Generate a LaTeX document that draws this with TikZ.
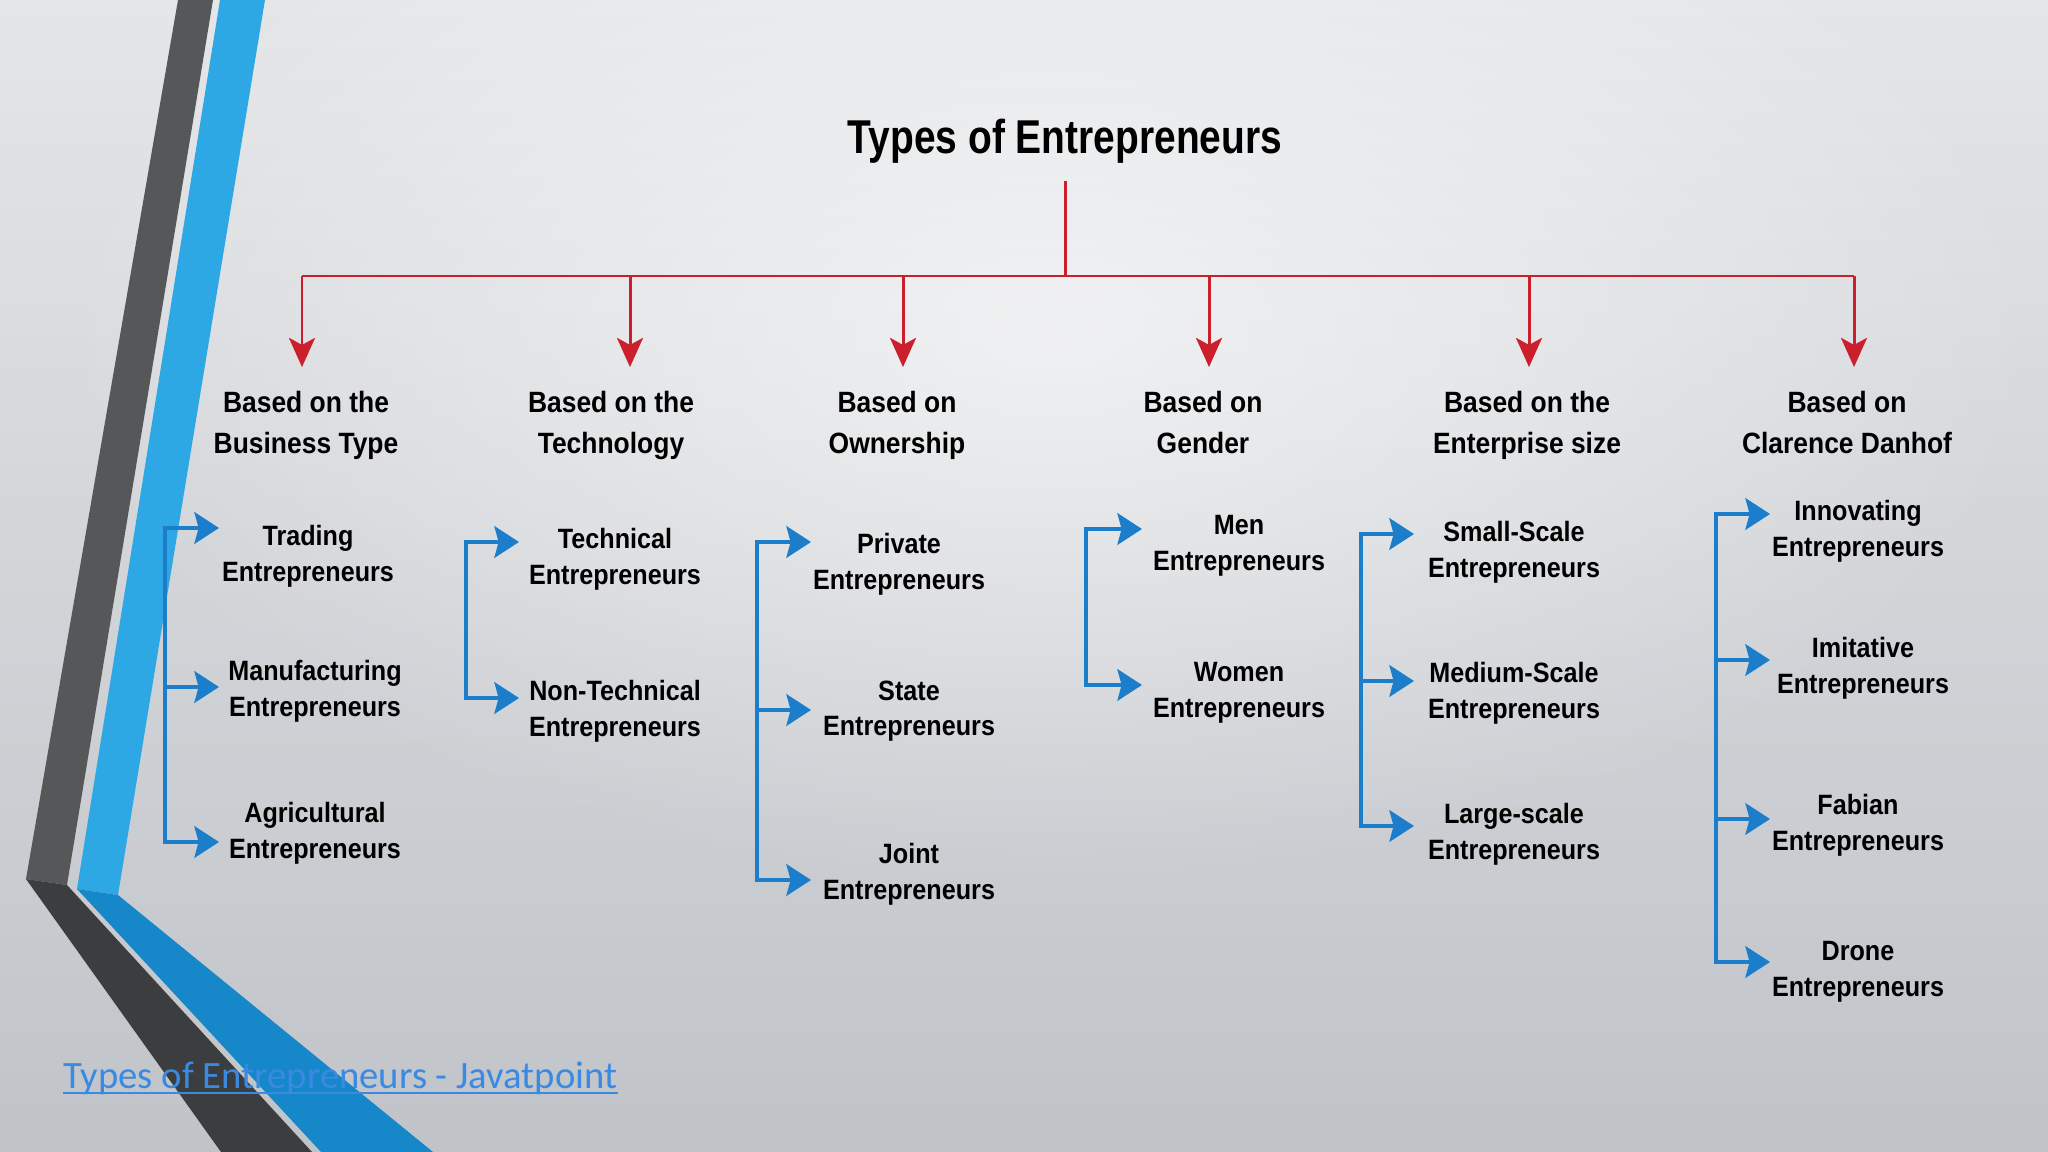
\documentclass[tikz,border=0pt]{standalone}
\usepackage{fontspec}
\setmainfont{Liberation Sans}
\newfontfamily\titlefont{Liberation Sans}[FakeStretch=0.82]
\newfontfamily\labelfont{Liberation Sans}[FakeStretch=0.9]
\newfontfamily\linkfont{Carlito}
\usetikzlibrary{positioning}
\usetikzlibrary{arrows.meta,calc,fadings}

\definecolor{bgtop}{HTML}{E4E6E8}
\definecolor{bgbottom}{HTML}{C0C3C8}
\definecolor{darkband}{HTML}{565759}
\definecolor{darkbandlow}{HTML}{3C3D3F}
\definecolor{blueband}{HTML}{2EA7E5}
\definecolor{bluebandlow}{HTML}{1687C8}
\definecolor{treered}{HTML}{CC1F2E}
\definecolor{treeblue}{HTML}{1C7ECB}
\definecolor{linkblue}{HTML}{3A8AE2}

\tikzfading[name=glow, inner color=transparent!0, outer color=transparent!100]

\newcommand{\BARY}{276}
\newcommand{\HEADY}{391}

\tikzset{
	heading/.style={font=\labelfont\bfseries\fontsize{8.35}{11.4}\selectfont, align=center, anchor=north},
	kind/.style={font=\labelfont\bfseries\fontsize{7.95}{10}\selectfont, align=center, anchor=north},
	redline/.style={draw=treered, line width=0.85pt},
	redarrow/.style={redline, -{Stealth[length=8.3pt,width=7.4pt,inset=2pt]}},
	blueline/.style={draw=treeblue, line width=1pt, line cap=rect},
	bluearrow/.style={draw=treeblue, line width=1pt, -{Stealth[length=7pt,width=9pt,inset=1.2pt]}}
}

\begin{document}
\begin{tikzpicture}[x=0.01cm,y=-0.01cm]
\tikzstyle{every node}=[inner sep=0]
% Background
	\useasboundingbox (0,0) rectangle (2048,1152);
	\clip (0,0) rectangle (2048,1152);
	\shade[top color=bgtop, bottom color=bgbottom] (0,0) rectangle (2048,1152);
	\fill[white, opacity=0.6, path fading=glow] (1050,330) ellipse (1000 and 560);

% Side bands
	\fill[darkband] (178,0) -- (213,0) -- (67,885) -- (26,879) -- cycle;
	\fill[darkbandlow] (26,879) -- (67,885) -- (312,1152) -- (221,1152) -- cycle;
	\fill[blueband] (220,0) -- (265,0) -- (118,895) -- (77,889) -- cycle;
	\fill[bluebandlow] (77,889) -- (118,895) -- (433,1152) -- (321,1152) -- cycle;

% Title
	\node[font=\titlefont\bfseries\fontsize{13.5}{16}\selectfont, anchor=north] (title) at (1065,118) {Types of Entrepreneurs};

% Headings
	\node[heading] (h1) at (306,\HEADY) {Based on the\\Business Type};
	\node[heading] (h2) at (611,\HEADY) {Based on the\\Technology};
	\node[heading] (h3) at (897,\HEADY) {Based on\\Ownership};
	\node[heading] (h4) at (1203,\HEADY) {Based on\\Gender};
	\node[heading] (h5) at (1527,\HEADY) {Based on the\\Enterprise size};
	\node[heading] (h6) at (1847,\HEADY) {Based on\\Clarence Danhof};

% Red tree
	\coordinate (j1) at (302,\BARY);
	\coordinate (j2) at (630,\BARY);
	\coordinate (j3) at (903,\BARY);
	\coordinate (j4) at (1209,\BARY);
	\coordinate (j5) at (1529,\BARY);
	\coordinate (j6) at (1854,\BARY);
	\draw[redline, shorten <=5pt] (title.south) -- (title.south |- j1);
	\draw[redline] (j1) -- (j6);
	\foreach \j/\h in {j1/h1,j2/h2,j3/h3,j4/h4,j5/h5,j6/h6}
		\draw[redarrow, shorten >=6.8pt] (\j) -- (\j |- \h.north);

% Business type
	\node[kind] (trade) at (308,525) {Trading\\Entrepreneurs};
	\node[kind] (manuf) at (315,660) {Manufacturing\\Entrepreneurs};
	\node[kind] (agri) at (315,802) {Agricultural\\Entrepreneurs};
	\foreach \n/\y in {1/528,2/687,3/842} {
		\coordinate (bs\n) at (165,\y);
		\coordinate (be\n) at (219,\y);
		\draw[bluearrow] (bs\n) -- (be\n);
	}
	\draw[blueline] (bs1) -- (bs3);

% Technology
	\node[kind] (tech) at (615,528) {Technical\\Entrepreneurs};
	\node[kind] (nontech) at (615,680) {Non-Technical\\Entrepreneurs};
	\foreach \n/\y in {1/542,2/698} {
		\coordinate (ts\n) at (466,\y);
		\coordinate (te\n) at (519,\y);
		\draw[bluearrow] (ts\n) -- (te\n);
	}
	\draw[blueline] (ts1) -- (ts2);

% Ownership
	\node[kind] (private) at (899,533) {Private\\Entrepreneurs};
	\node[kind] (state) at (909,680) {State\\Entrepreneurs};
	\node[kind] (joint) at (909,843) {Joint\\Entrepreneurs};
	\foreach \n/\y in {1/542,2/710,3/880} {
		\coordinate (os\n) at (757,\y);
		\coordinate (oe\n) at (811,\y);
		\draw[bluearrow] (os\n) -- (oe\n);
	}
	\draw[blueline] (os1) -- (os3);

% Gender
	\node[kind] (men) at (1239,515) {Men\\Entrepreneurs};
	\node[kind] (women) at (1239,662) {Women\\Entrepreneurs};
	\foreach \n/\y in {1/529,2/685} {
		\coordinate (gs\n) at (1086,\y);
		\coordinate (ge\n) at (1142,\y);
		\draw[bluearrow] (gs\n) -- (ge\n);
	}
	\draw[blueline] (gs1) -- (gs2);

% Enterprise size
	\node[kind] (small) at (1514,521) {Small-Scale\\Entrepreneurs};
	\node[kind] (medium) at (1514,662) {Medium-Scale\\Entrepreneurs};
	\node[kind] (large) at (1514,803) {Large-scale\\Entrepreneurs};
	\foreach \n/\y in {1/534,2/681,3/826} {
		\coordinate (ss\n) at (1361,\y);
		\coordinate (se\n) at (1414,\y);
		\draw[bluearrow] (ss\n) -- (se\n);
	}
	\draw[blueline] (ss1) -- (ss3);

% Clarence Danhof
	\node[kind] (innov) at (1858,500) {Innovating\\Entrepreneurs};
	\node[kind] (imit) at (1863,637) {Imitative\\Entrepreneurs};
	\node[kind] (fabian) at (1858,794) {Fabian\\Entrepreneurs};
	\node[kind] (drone) at (1858,941) {Drone\\Entrepreneurs};
	\foreach \n/\y in {1/514,2/660,3/819,4/962} {
		\coordinate (ds\n) at (1716,\y);
		\coordinate (de\n) at (1770,\y);
		\draw[bluearrow] (ds\n) -- (de\n);
	}
	\draw[blueline] (ds1) -- (ds4);

% Link
	\node[font=\linkfont\fontsize{11}{13}\selectfont, text=linkblue, anchor=base west] (link) at (63,1088) {Types of Entrepreneurs - Javatpoint};
	\draw[linkblue, line width=0.6pt] ([yshift=-1.5pt]link.base west) -- ([yshift=-1.5pt]link.base east);
\end{tikzpicture}
\end{document}
